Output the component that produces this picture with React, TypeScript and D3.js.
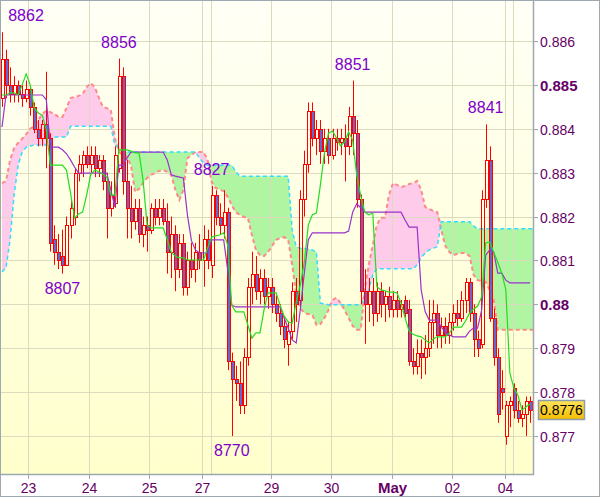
import { useEffect, useRef } from 'react'
import * as d3 from 'd3'

// prices in 1/10000 units (8862 = 0.8862)
// candles: [open, high, low, close]
const candles: [number, number, number, number][] = [
  [8847, 8862, 8845, 8856], [8856, 8858, 8847, 8850], [8850, 8854, 8846, 8848], [8848, 8852, 8846, 8850],
  [8850, 8851, 8846, 8848], [8848, 8850, 8845, 8847], [8847, 8851, 8846, 8849], [8849, 8850, 8843, 8845],
  [8845, 8846, 8839, 8840], [8840, 8842, 8836, 8838], [8838, 8842, 8836, 8841], [8841, 8853, 8831, 8838],
  [8838, 8839, 8812, 8814], [8815, 8818, 8809, 8812], [8812, 8816, 8808, 8810], [8811, 8817, 8807, 8809],
  [8809, 8820, 8809, 8818], [8818, 8824, 8815, 8822], [8820, 8831, 8818, 8830], [8830, 8834, 8828, 8832],
  [8832, 8835, 8829, 8834], [8834, 8836, 8831, 8832], [8832, 8836, 8830, 8834], [8834, 8836, 8829, 8831],
  [8831, 8834, 8829, 8833], [8833, 8834, 8826, 8828], [8828, 8830, 8815, 8822], [8822, 8828, 8820, 8825],
  [8823, 8836, 8822, 8834], [8831, 8856, 8830, 8852], [8852, 8854, 8825, 8828], [8828, 8833, 8815, 8822],
  [8822, 8827, 8815, 8819], [8819, 8824, 8817, 8822], [8822, 8824, 8814, 8816], [8816, 8820, 8813, 8818],
  [8818, 8820, 8812, 8817], [8817, 8823, 8816, 8822], [8822, 8824, 8818, 8820], [8820, 8824, 8818, 8822],
  [8822, 8824, 8818, 8819], [8819, 8823, 8807, 8812], [8812, 8820, 8806, 8816], [8816, 8818, 8803, 8808],
  [8808, 8816, 8806, 8814], [8814, 8816, 8802, 8804], [8804, 8812, 8802, 8810], [8810, 8814, 8806, 8808],
  [8808, 8814, 8805, 8812], [8812, 8816, 8808, 8810], [8810, 8818, 8804, 8815], [8815, 8817, 8808, 8810],
  [8809, 8827, 8806, 8825], [8825, 8826, 8818, 8820], [8820, 8823, 8816, 8818], [8818, 8826, 8815, 8821],
  [8821, 8822, 8785, 8787], [8787, 8789, 8770, 8783], [8783, 8786, 8778, 8782], [8782, 8787, 8775, 8777],
  [8777, 8790, 8775, 8788], [8788, 8806, 8786, 8804], [8804, 8812, 8800, 8807], [8807, 8811, 8801, 8803],
  [8803, 8808, 8800, 8806], [8806, 8808, 8800, 8802], [8802, 8806, 8799, 8804], [8804, 8806, 8798, 8800],
  [8800, 8802, 8796, 8798], [8798, 8800, 8793, 8795], [8795, 8797, 8790, 8792], [8791, 8796, 8786, 8794],
  [8794, 8805, 8792, 8803], [8803, 8806, 8796, 8800], [8801, 8826, 8799, 8824], [8824, 8835, 8820, 8832],
  [8832, 8846, 8830, 8844], [8844, 8846, 8836, 8838], [8838, 8842, 8834, 8840], [8840, 8842, 8832, 8835],
  [8835, 8840, 8832, 8838], [8838, 8840, 8832, 8834], [8834, 8840, 8833, 8838], [8838, 8840, 8835, 8837],
  [8837, 8840, 8834, 8838], [8838, 8841, 8828, 8836], [8836, 8845, 8834, 8843], [8843, 8851, 8834, 8839],
  [8839, 8842, 8822, 8824], [8824, 8825, 8800, 8803], [8803, 8808, 8791, 8800], [8800, 8806, 8796, 8803],
  [8803, 8806, 8795, 8798], [8798, 8805, 8796, 8803], [8803, 8805, 8797, 8800], [8800, 8803, 8796, 8802],
  [8802, 8804, 8797, 8799], [8799, 8803, 8797, 8801], [8801, 8803, 8797, 8799], [8799, 8801, 8797, 8800],
  [8801, 8802, 8797, 8798], [8799, 8801, 8786, 8787], [8787, 8790, 8784, 8786], [8786, 8792, 8784, 8789],
  [8789, 8792, 8783, 8788], [8788, 8793, 8784, 8790], [8790, 8801, 8788, 8796], [8796, 8801, 8791, 8798],
  [8798, 8800, 8790, 8793], [8793, 8797, 8790, 8795], [8795, 8797, 8791, 8793], [8793, 8798, 8791, 8796],
  [8796, 8800, 8794, 8798], [8798, 8801, 8795, 8797], [8797, 8803, 8796, 8801], [8801, 8806, 8798, 8805],
  [8805, 8806, 8796, 8798], [8798, 8800, 8788, 8792], [8792, 8794, 8788, 8790], [8791, 8826, 8790, 8824],
  [8824, 8841, 8822, 8833], [8833, 8836, 8796, 8797], [8797, 8799, 8786, 8788], [8788, 8790, 8773, 8775],
  [8781, 8785, 8776, 8780], [8770, 8778, 8768, 8777], [8777, 8779, 8772, 8778], [8781, 8782, 8774, 8776],
  [8776, 8778, 8773, 8774], [8774, 8777, 8772, 8775], [8775, 8779, 8770, 8778], [8778, 8779, 8773, 8776],
]

// conversion line (green)
const tenkan = [
  8847.7, 8847.7, 8848.2, 8848.2, 8847.7, 8850.0, 8852.5, 8850.0, 8844.7, 8843.6,
  8843.1, 8839.7, 8831.7, 8831.7, 8831.7, 8831.7, 8830.6, 8825.4, 8819.7, 8820.6,
  8821.0, 8824.9, 8829.5, 8830.6, 8830.2, 8829.7, 8829.0, 8824.9, 8824.9, 8835.2,
  8835.2, 8835.2, 8834.9, 8834.5, 8834.5, 8828.3, 8818.1, 8817.4, 8817.4, 8817.4,
  8817.4, 8814.7, 8811.9, 8811.0, 8810.6, 8810.6, 8810.1, 8810.1, 8810.1, 8810.1,
  8810.1, 8812.8, 8815.3, 8815.6, 8815.8, 8816.3, 8813.5, 8799.8, 8798.3, 8798.3,
  8798.3, 8795.3, 8792.3, 8793.5, 8793.5, 8798.7, 8802.6, 8802.6, 8802.6, 8799.8,
  8797.3, 8796.0, 8795.7, 8800.5, 8804.4, 8809.6, 8818.1, 8820.4, 8820.8, 8827.2,
  8834.5, 8839.0, 8839.5, 8837.9, 8836.1, 8837.0, 8839.3, 8837.4, 8829.5, 8824.7,
  8821.0, 8820.4, 8820.8, 8804.0, 8803.3, 8803.1, 8802.8, 8802.8, 8802.6, 8800.3,
  8796.9, 8793.9, 8793.2, 8792.8, 8792.6, 8791.9, 8791.2, 8792.1, 8792.6, 8792.6,
  8792.6, 8793.5, 8794.8, 8794.8, 8794.8, 8796.2, 8798.0, 8798.9, 8799.6, 8801.7,
  8814.0, 8814.2, 8811.9, 8809.6, 8807.1, 8803.3, 8784.4, 8780.9, 8779.3, 8775.9,
  8776.6, 8777.3,
]

// base line (purple)
const kijun = [
  8840.4, 8847.7, 8847.7, 8847.7, 8847.7, 8847.7, 8847.7, 8847.7, 8847.7, 8847.7,
  8847.7, 8846.6, 8835.8, 8835.8, 8835.8, 8835.2, 8834.3, 8832.9, 8831.3, 8829.9,
  8829.9, 8829.9, 8829.9, 8829.9, 8829.9, 8829.9, 8829.9, 8826.0, 8822.2, 8831.7,
  8831.7, 8833.3, 8834.7, 8834.7, 8834.7, 8834.7, 8834.7, 8834.7, 8834.7, 8834.7,
  8834.7, 8832.9, 8829.5, 8829.2, 8829.0, 8828.8, 8820.4, 8814.5, 8812.4, 8811.7,
  8811.7, 8811.7, 8814.7, 8814.7, 8814.7, 8814.7, 8807.8, 8799.8, 8799.4, 8799.4,
  8799.4, 8799.4, 8799.4, 8799.4, 8799.4, 8799.4, 8799.4, 8799.4, 8799.4, 8799.4,
  8796.9, 8794.6, 8791.9, 8791.2, 8798.7, 8807.1, 8814.7, 8816.3, 8816.3, 8816.3,
  8816.3, 8816.3, 8816.3, 8816.3, 8816.3, 8816.3, 8816.7, 8821.0, 8822.9, 8822.0,
  8821.0, 8821.0, 8821.0, 8821.0, 8821.0, 8821.0, 8821.0, 8821.0, 8821.0, 8821.0,
  8819.2, 8817.6, 8817.6, 8817.6, 8803.3, 8798.3, 8796.4, 8796.4, 8796.4, 8794.8,
  8793.7, 8793.0, 8792.6, 8792.6, 8792.6, 8792.6, 8793.9, 8794.6, 8794.6, 8798.7,
  8811.2, 8812.4, 8811.9, 8807.1, 8807.1, 8805.5, 8804.9, 8804.9, 8804.9, 8804.9,
  8804.9, 8804.9,
]

// leading span A (cyan dashed)
const spanA = [
  8807.4, 8808.3, 8814.7, 8824.9, 8831.7, 8834.7, 8835.8, 8836.1, 8836.3, 8836.3,
  8836.3, 8836.3, 8837.4, 8838.1, 8838.1, 8838.1, 8838.1, 8840.6, 8840.6, 8840.6,
  8840.6, 8840.6, 8840.6, 8840.6, 8840.6, 8840.6, 8840.6, 8840.6, 8836.3, 8835.8,
  8835.2, 8834.7, 8834.7, 8834.7, 8834.7, 8834.7, 8834.7, 8834.7, 8834.7, 8834.7,
  8834.7, 8834.7, 8834.7, 8834.7, 8834.7, 8834.7, 8834.7, 8834.7, 8834.7, 8833.3,
  8832.2, 8831.7, 8831.7, 8831.7, 8831.7, 8831.7, 8831.7, 8831.7, 8830.2, 8829.2,
  8829.2, 8829.2, 8829.2, 8829.2, 8829.2, 8829.2, 8829.2, 8829.2, 8829.2, 8829.2,
  8829.2, 8829.2, 8816.9, 8813.1, 8812.8, 8812.8, 8812.6, 8812.4, 8811.9, 8800.3,
  8800.1, 8799.9, 8799.9, 8799.9, 8799.9, 8799.9, 8799.9, 8799.9, 8799.9, 8799.9,
  8801.5, 8803.3, 8806.7, 8808.1, 8808.1, 8808.1, 8808.1, 8808.1, 8808.1, 8808.1,
  8808.1, 8808.1, 8808.1, 8809.0, 8810.6, 8811.7, 8812.4, 8812.8, 8813.1, 8818.8,
  8818.8, 8818.8, 8818.8, 8818.8, 8818.8, 8818.8, 8818.8, 8817.9, 8817.2, 8817.2,
  8817.2, 8817.2, 8817.2, 8817.2, 8817.2, 8817.2, 8817.2, 8817.2, 8817.2, 8817.2,
  8817.2, 8817.2, 8817.2,
]

// leading span B (salmon dashed)
const spanB = [
  8827.6, 8828.1, 8832.9, 8835.6, 8836.8, 8837.7, 8838.8, 8840.0, 8840.6, 8842.0,
  8843.4, 8844.1, 8843.8, 8843.4, 8842.7, 8842.7, 8844.7, 8847.0, 8847.2, 8847.5,
  8847.9, 8849.5, 8850.4, 8849.5, 8847.2, 8845.0, 8844.7, 8844.3, 8837.9, 8834.7,
  8834.0, 8833.6, 8831.7, 8825.6, 8826.3, 8827.6, 8828.8, 8829.5, 8829.9, 8830.4,
  8830.6, 8830.2, 8829.5, 8826.1, 8823.8, 8826.1, 8833.3, 8834.0, 8834.7, 8834.7,
  8834.7, 8832.9, 8827.9, 8826.5, 8826.1, 8825.8, 8824.5, 8822.6, 8821.0, 8820.4,
  8819.9, 8819.7, 8815.8, 8812.4, 8811.2, 8811.0, 8811.9, 8813.3, 8814.7, 8815.1,
  8815.3, 8814.7, 8809.0, 8802.1, 8799.2, 8798.0, 8797.8, 8797.6, 8795.3, 8795.5,
  8796.9, 8798.7, 8801.0, 8801.5, 8800.3, 8798.7, 8796.9, 8795.1, 8794.2, 8794.2,
  8803.3, 8809.0, 8813.5, 8818.1, 8819.7, 8819.7, 8824.9, 8827.6, 8827.2, 8826.7,
  8827.0, 8827.4, 8827.6, 8828.1, 8826.1, 8822.2, 8821.7, 8821.3, 8821.0, 8816.9,
  8813.3, 8811.9, 8811.2, 8811.5, 8811.7, 8811.7, 8811.0, 8806.7, 8805.5, 8805.3,
  8805.1, 8803.3, 8801.0, 8794.2, 8794.2, 8794.2, 8794.2, 8794.2, 8794.2, 8794.2,
  8794.2, 8794.2, 8794.2,
]

const priceTicks = [8770, 8780, 8790, 8800, 8810, 8820, 8830, 8840, 8850, 8860]
const boldTicks = [8800, 8850]

// day boundaries, in candle index units
const dayPos = [6.45, 21.6, 36.5, 49.6, 66.7, 81.6, 96.8, 111.6, 124.8]
const dayLabels = ['23', '24', '25', '27', '29', '30', 'May', '02', '04']
const sessionLines = [51.9, 126.8]

// marked highs / lows
const markIdx = [0, 29, 15, 52, 57, 87, 120]
const markVal = [8862, 8856, 8807, 8827, 8770, 8851, 8841]
const markKind = ['high', 'high', 'low', 'high', 'low', 'high', 'high']

const lastPrice = 8776

const W = 600
const H = 497
const plotR = 533
const plotB = 474

export default function App() {
  const svgRef = useRef<SVGSVGElement>(null)

  useEffect(() => {
    if (!svgRef.current) return
    const svg = d3.select(svgRef.current)
    svg.selectAll('*').remove()

    const font = "'Liberation Sans', Arial, sans-serif"
    const x = d3.scaleLinear().domain([0, candles.length - 1]).range([2, 530])
    const y = d3.scaleLinear().domain([8770, 8860]).range([436, 41])
    const crisp = (v: number) => Math.round(v) + 0.5

    const defs = svg.append('defs')
    const bg = defs.append('linearGradient').attr('id', 'bg').attr('x1', 0).attr('y1', 0).attr('x2', 0).attr('y2', 1)
    bg.append('stop').attr('offset', '0%').attr('stop-color', '#fffff6')
    bg.append('stop').attr('offset', '100%').attr('stop-color', '#ffffcc')
    const gold = defs.append('linearGradient').attr('id', 'gold').attr('x1', 0).attr('y1', 0).attr('x2', 0).attr('y2', 1)
    gold.append('stop').attr('offset', '0%').attr('stop-color', '#ffe45a')
    gold.append('stop').attr('offset', '100%').attr('stop-color', '#f4bd00')
    defs.append('clipPath').attr('id', 'plot')
      .append('rect').attr('x', 1).attr('y', 1).attr('width', plotR - 1).attr('height', plotB - 1)

    svg.append('rect').attr('width', W).attr('height', H).attr('fill', '#ffffff')
    svg.append('rect').attr('x', 1).attr('y', 1).attr('width', plotR - 1).attr('height', plotB - 1).attr('fill', 'url(#bg)')

    const plot = svg.append('g').attr('clip-path', 'url(#plot)')

    // cloud fills
    const idx = d3.range(spanA.length)
    const greenArea = d3.area<number>()
      .x(i => x(i))
      .y0(i => y(spanB[i]))
      .y1(i => y(Math.max(spanA[i], spanB[i])))
    const pinkArea = d3.area<number>()
      .x(i => x(i))
      .y0(i => y(spanA[i]))
      .y1(i => y(Math.max(spanA[i], spanB[i])))
    plot.append('path').datum(idx).attr('d', greenArea).attr('fill', '#b0f5a2')
    plot.append('path').datum(idx).attr('d', pinkArea).attr('fill', '#ffcbeb')

    // grid
    priceTicks.forEach(t => {
      plot.append('line')
        .attr('x1', 1).attr('x2', plotR).attr('y1', crisp(y(t))).attr('y2', crisp(y(t)))
        .attr('stroke', '#dcdbbd').attr('stroke-width', 1)
    })
    dayPos.concat(sessionLines).forEach(d => {
      plot.append('line')
        .attr('x1', crisp(x(d))).attr('x2', crisp(x(d))).attr('y1', 1).attr('y2', plotB)
        .attr('stroke', '#dcdbbd').attr('stroke-width', 1)
    })

    // cloud edges
    const spanLine = (arr: number[]) => d3.line<number>().x(i => x(i)).y(i => y(arr[i]))
    plot.append('path').datum(idx).attr('d', spanLine(spanB)).attr('fill', 'none')
      .attr('stroke', '#ff8a8a').attr('stroke-width', 2).attr('stroke-dasharray', '4,3')
    plot.append('path').datum(idx).attr('d', spanLine(spanA)).attr('fill', 'none')
      .attr('stroke', '#33dcff').attr('stroke-width', 1.5).attr('stroke-dasharray', '4,3')

    // candles
    candles.forEach(([o, h, l, c], i) => {
      const cx = crisp(x(i))
      const top = crisp(y(Math.max(o, c)))
      const bot = crisp(y(Math.min(o, c)))
      plot.append('line').attr('x1', cx).attr('x2', cx).attr('y1', y(h)).attr('y2', top)
        .attr('stroke', '#ff0000').attr('stroke-width', 1)
      plot.append('line').attr('x1', cx).attr('x2', cx).attr('y1', bot).attr('y2', y(l))
        .attr('stroke', '#ff0000').attr('stroke-width', 1)
      plot.append('rect')
        .attr('x', cx - 1).attr('y', top).attr('width', 3).attr('height', Math.max(bot - top, 1))
        .attr('fill', c < o ? '#6666cc' : 'none')
        .attr('stroke', '#ff0000').attr('stroke-width', 1)
    })

    // conversion / base lines
    const ind = d3.range(candles.length)
    plot.append('path').datum(ind).attr('d', spanLine(kijun)).attr('fill', 'none')
      .attr('stroke', '#9933cc').attr('stroke-width', 1.2)
    plot.append('path').datum(ind).attr('d', spanLine(tenkan)).attr('fill', 'none')
      .attr('stroke', '#22dd22').attr('stroke-width', 1.2)

    // high / low marks
    markIdx.forEach((mi, k) => {
      const v = markVal[k]
      const ty = markKind[k] === 'high' ? y(v) - 11 : y(v) + 20
      svg.append('text')
        .attr('x', Math.max(x(mi), 26)).attr('y', ty)
        .attr('text-anchor', 'middle')
        .attr('font-family', font).attr('font-size', 16)
        .attr('fill', '#8000cc')
        .text(String(v))
    })

    // axes
    const axisColor = '#9ea8b1'
    svg.append('line').attr('x1', plotR + 0.5).attr('x2', plotR + 0.5).attr('y1', 0).attr('y2', plotB + 1)
      .attr('stroke', axisColor).attr('stroke-width', 1.5)
    svg.append('line').attr('x1', 0).attr('x2', plotR + 1).attr('y1', plotB + 0.5).attr('y2', plotB + 0.5)
      .attr('stroke', axisColor).attr('stroke-width', 1.5)

    priceTicks.forEach(t => {
      const ty = crisp(y(t))
      const bold = boldTicks.includes(t)
      svg.append('line').attr('x1', plotR).attr('x2', plotR + 5).attr('y1', ty).attr('y2', ty)
        .attr('stroke', axisColor)
      svg.append('text')
        .attr('x', 540).attr('y', ty + 5)
        .attr('font-family', font).attr('font-size', bold ? 15 : 14)
        .attr('font-weight', bold ? 'bold' : 'normal')
        .attr('fill', '#660066')
        .text(String(t / 10000))
    })

    dayPos.forEach((d, k) => {
      const tx = crisp(x(d))
      svg.append('line').attr('x1', tx).attr('x2', tx).attr('y1', plotB).attr('y2', plotB + 5)
        .attr('stroke', axisColor)
      const bold = dayLabels[k] === 'May'
      svg.append('text')
        .attr('x', tx).attr('y', 493)
        .attr('text-anchor', 'middle')
        .attr('font-family', font).attr('font-size', bold ? 15 : 14)
        .attr('font-weight', bold ? 'bold' : 'normal')
        .attr('fill', '#660066')
        .text(dayLabels[k])
    })

    // last price box
    const ly = y(lastPrice)
    svg.append('rect')
      .attr('x', 538.5).attr('y', Math.round(ly) - 9.5).attr('width', 46).attr('height', 19)
      .attr('fill', 'url(#gold)').attr('stroke', '#8e9cab').attr('stroke-width', 1.5)
    svg.append('text')
      .attr('x', 561.5).attr('y', Math.round(ly) + 5)
      .attr('text-anchor', 'middle')
      .attr('font-family', font).attr('font-size', 14)
      .attr('fill', '#000000')
      .text((lastPrice / 10000).toFixed(4))

    // outer frame
    svg.append('rect').attr('x', 0.5).attr('y', 0.5).attr('width', W - 1).attr('height', H - 1)
      .attr('fill', 'none').attr('stroke', axisColor).attr('stroke-width', 1)
  }, [])

  return (
    <svg
      ref={svgRef}
      width={W}
      height={H}
      style={{ position: 'absolute', left: 0, top: 0 }}
    />
  )
}
